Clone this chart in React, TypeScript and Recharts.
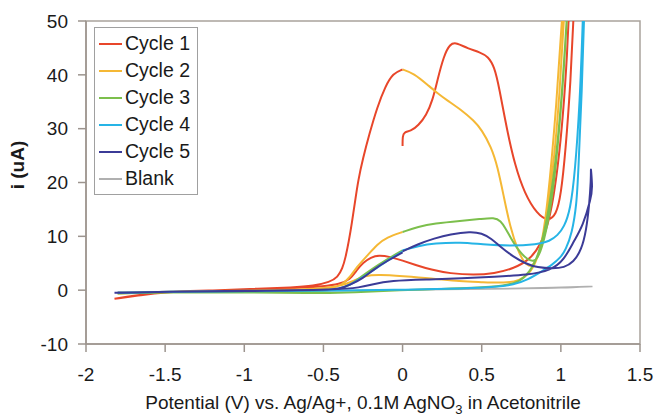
import {
  Legend,
  Line,
  LineChart,
  ReferenceArea,
  XAxis,
  YAxis,
} from "recharts";

type Pt = [number, number];

// each sweep starts at 0 V, runs to +1.2 V, back to -1.8 V and forward to 0 V
// (turning points are repeated so the smoothed curve reaches them)
const cycle1: Pt[] = [
  [0.0, 26.8], [0.0, 28.6], [0.01, 29.4], [0.05, 29.5], [0.1, 30.6], [0.15, 32.5],
  [0.19, 35.3], [0.22, 39.0], [0.26, 43.5], [0.3, 45.8], [0.34, 46.0], [0.41, 44.9],
  [0.49, 44.2], [0.54, 43.4], [0.58, 41.5], [0.61, 37.7], [0.66, 29.7], [0.71, 23.2],
  [0.77, 18.0], [0.85, 14.1], [0.92, 12.8], [0.97, 14.0], [1.0, 17.5], [1.03, 26],
  [1.06, 38], [1.09, 55], [1.2, 130], [1.09, 80], [1.04, 40], [0.98, 22], [0.93, 13],
  [0.87, 8.2], [0.8, 5.6], [0.7, 4.0], [0.58, 3.1], [0.45, 2.8], [0.3, 3.1], [0.18, 3.8],
  [0.08, 4.7], [0.0, 5.5], [-0.08, 6.2], [-0.15, 6.5], [-0.2, 6.1], [-0.25, 5.1],
  [-0.29, 3.7], [-0.33, 2.0], [-0.4, 1.1], [-0.5, 0.7], [-0.65, 0.4], [-1.0, 0.1],
  [-1.3, -0.1], [-1.5, -0.4], [-1.65, -0.9], [-1.82, -1.6], [-1.82, -1.6], [-1.82, -1.6],
  [-1.7, -1.0], [-1.5, -0.3],
  [-1.2, -0.1], [-0.9, 0.3], [-0.7, 0.5], [-0.56, 0.8], [-0.46, 1.5], [-0.41, 2.4],
  [-0.38, 4.0], [-0.36, 6.1], [-0.34, 9.0], [-0.32, 12.5], [-0.3, 16.5], [-0.28, 20.5],
  [-0.25, 24.5], [-0.21, 29.0], [-0.16, 34.0], [-0.11, 37.8], [-0.06, 40.3], [0.0, 41.0],
];

const cycle2: Pt[] = [
  [0.0, 41.0], [0.07, 40.3], [0.16, 38.1], [0.22, 36.6], [0.28, 35.3], [0.37, 33.5],
  [0.45, 31.5], [0.5, 29.8], [0.56, 26.6], [0.6, 23.0], [0.64, 17.3], [0.68, 11.7],
  [0.73, 7.2], [0.77, 5.0], [0.81, 4.2], [0.85, 5.5], [0.89, 10], [0.93, 20], [0.97, 34],
  [1.01, 50], [1.2, 140], [1.04, 60], [0.99, 35], [0.95, 22], [0.9, 11], [0.85, 5.5],
  [0.8, 3.0], [0.74, 1.8], [0.65, 1.3], [0.49, 1.5], [0.37, 1.6], [0.18, 2.2], [0.0, 2.6],
  [-0.15, 2.9], [-0.24, 2.7], [-0.3, 1.8], [-0.4, 0.6], [-0.6, 0.1], [-1.0, -0.1],
  [-1.5, -0.3], [-1.8, -0.6], [-1.8, -0.6], [-1.8, -0.6], [-1.5, -0.3], [-1.0, -0.1],
  [-0.6, 0.0], [-0.45, 0.3],
  [-0.38, 1.0], [-0.33, 2.5], [-0.29, 4.3], [-0.22, 6.5], [-0.16, 8.5], [-0.1, 9.8],
  [0.0, 10.8],
];

const cycle3: Pt[] = [
  [0.0, 10.8], [0.1, 11.8], [0.2, 12.4], [0.37, 12.9], [0.49, 13.2], [0.58, 13.5],
  [0.62, 12.9], [0.65, 11.5], [0.68, 9.9], [0.73, 7.4], [0.79, 5.6], [0.84, 5.2],
  [0.88, 7.5], [0.93, 14], [0.97, 23], [1.01, 37], [1.04, 50], [1.2, 140], [1.06, 60],
  [1.0, 33], [0.96, 22], [0.91, 12.5], [0.86, 6.5], [0.8, 3.2], [0.74, 1.6], [0.65, 0.8],
  [0.45, 0.4], [0.2, 0.2], [0.0, 0.0], [-0.3, -0.4], [-0.6, -0.6], [-1.0, -0.4],
  [-1.5, -0.4], [-1.8, -0.6], [-1.8, -0.6], [-1.8, -0.6], [-1.5, -0.4], [-1.0, -0.3],
  [-0.5, -0.2], [-0.4, 0.1],
  [-0.33, 1.0], [-0.27, 2.3], [-0.2, 3.8], [-0.1, 5.7], [0.0, 7.4],
];

const cycle4: Pt[] = [
  [0.0, 7.4], [0.1, 8.2], [0.2, 8.7], [0.37, 8.9], [0.5, 8.5], [0.68, 8.2], [0.85, 8.5],
  [0.93, 9.1], [0.98, 10.2], [1.02, 11.7], [1.06, 14.9], [1.09, 22], [1.12, 35],
  [1.14, 50], [1.2, 110], [1.16, 60], [1.13, 35], [1.11, 22], [1.1, 16], [1.07, 10.5],
  [1.03, 7.5], [1.0, 6.1], [0.94, 4.6], [0.89, 3.7], [0.79, 1.9], [0.7, 1.0], [0.6, 0.6],
  [0.4, 0.3], [0.0, 0.1], [-0.3, -0.1], [-1.0, -0.2], [-1.5, -0.3], [-1.8, -0.5],
  [-1.8, -0.5], [-1.8, -0.5],
  [-1.5, -0.3], [-1.0, -0.2], [-0.5, -0.1], [-0.4, 0.2], [-0.33, 1.0], [-0.26, 2.2],
  [-0.18, 3.8], [-0.1, 5.4], [0.0, 7.2],
];

const cycle5: Pt[] = [
  [0.0, 7.2], [0.1, 8.6], [0.2, 9.6], [0.3, 10.4], [0.43, 10.9], [0.5, 10.6],
  [0.56, 9.6], [0.62, 8.0], [0.7, 6.2], [0.78, 4.9], [0.85, 4.2], [0.95, 4.0],
  [1.02, 4.2], [1.08, 5.2], [1.13, 7.5], [1.16, 11], [1.18, 16], [1.19, 20.5], [1.19, 22.5],
  [1.19, 22.5], [1.2, 19], [1.19, 17], [1.14, 12], [1.08, 9.0], [1.02, 5.6], [0.94, 3.7],
  [0.79, 2.8], [0.58, 2.5], [0.37, 2.2], [0.18, 2.0], [-0.08, 1.8], [-0.2, 1.0],
  [-0.27, 0.5], [-0.4, 0.1], [-1.0, -0.2], [-1.5, -0.3], [-1.82, -0.5], [-1.82, -0.5],
  [-1.82, -0.5], [-1.5, -0.3], [-1.0, -0.1],
  [-0.5, 0.0], [-0.4, 0.2], [-0.33, 1.0], [-0.25, 2.2], [-0.18, 3.9], [-0.1, 5.4],
  [0.0, 7.0],
];

const blank: Pt[] = [
  [-1.8, -0.3], [-1.0, -0.2], [-0.5, -0.1], [0.0, 0.0], [0.4, 0.2], [0.8, 0.3],
  [1.0, 0.4], [1.2, 0.7], [1.2, 0.7], [1.2, 0.7], [1.0, 0.5], [0.5, 0.2], [0.0, 0.0],
  [-1.0, -0.2], [-1.8, -0.4],
];

const xTicks = [-2, -1.5, -1, -0.5, 0, 0.5, 1, 1.5];
const yTicks = [-10, 0, 10, 20, 30, 40, 50];

const series = [
  { name: "Cycle 1", color: "#e8462a", points: cycle1 },
  { name: "Cycle 2", color: "#f5b835", points: cycle2 },
  { name: "Cycle 3", color: "#7cbf4c", points: cycle3 },
  { name: "Cycle 4", color: "#26b4e6", points: cycle4 },
  { name: "Cycle 5", color: "#3b3b97", points: cycle5 },
  { name: "Blank", color: "#b0b0b0", points: blank },
];

const FONT = "'Liberation Sans', Arial, sans-serif";
const toRows = (pts: Pt[]) => pts.map(([x, y]) => ({ x, y }));

function LegendBox() {
  return (
    <div
      style={{
        border: "1px solid #a0a0a0",
        background: "#fff",
        padding: "2px 7px 2px 4px",
        fontFamily: FONT,
        fontSize: 19.5,
        color: "#1a1a1a",
      }}
    >
      {series.map((s) => (
        <div key={s.name} style={{ display: "flex", alignItems: "center", height: 27 }}>
          <span
            style={{
              display: "inline-block",
              width: 23,
              height: 2,
              background: s.color,
              marginRight: 3,
            }}
          />
          {s.name}
        </div>
      ))}
    </div>
  );
}

function YTitle() {
  return (
    <text
      x={17}
      y={165}
      transform="rotate(-90, 17, 165)"
      textAnchor="middle"
      dominantBaseline="central"
      fontFamily={FONT}
      fontSize={19}
      fontWeight="bold"
      fill="#1a1a1a"
    >
      i (uA)
    </text>
  );
}

function XTitle() {
  return (
    <text x={363} y={409} textAnchor="middle" fontFamily={FONT} fontSize={19} fill="#1a1a1a">
      <tspan>Potential (V) vs. Ag/Ag+, 0.1M AgNO</tspan>
      <tspan fontSize={13} dy={5}>3</tspan>
      <tspan dy={-5}>{" in Acetonitrile"}</tspan>
    </text>
  );
}

export default function App() {
  const tick = { fill: "#1a1a1a", fontSize: 19, fontFamily: FONT };
  return (
    <div style={{ position: "absolute", left: 0, top: 0, width: 656, height: 416, background: "#fff" }}>
      <LineChart width={656} height={416} margin={{ top: 21, right: 16, bottom: 32, left: 0 }}>
        <ReferenceArea x1={-2} x2={1.5} y1={-10} y2={50} fill="none" stroke="#a9a29c" strokeWidth={1.5} />
        <XAxis
          type="number"
          dataKey="x"
          domain={[-2, 1.5]}
          ticks={xTicks}
          allowDataOverflow
          height={40}
          tickSize={8}
          tickMargin={16}
          tick={tick}
          stroke="#9c948e"
          strokeWidth={1.5}
          label={<XTitle />}
        />
        <YAxis
          type="number"
          domain={[-10, 50]}
          ticks={yTicks}
          allowDataOverflow
          width={86}
          tickSize={8}
          tickMargin={10}
          tick={tick}
          stroke="#9c948e"
          strokeWidth={1.5}
          label={<YTitle />}
        />
        <Legend
          layout="vertical"
          align="center"
          verticalAlign="middle"
          wrapperStyle={{ left: 94, top: 27, width: "auto" }}
          content={() => <LegendBox />}
        />
        {[series[5], ...series.slice(0, 5)].map((s) => (
          <Line
            key={s.name}
            name={s.name}
            data={toRows(s.points)}
            dataKey="y"
            type="basis"
            stroke={s.color}
            strokeWidth={s.name === "Blank" ? 1.5 : 2}
            dot={false}
            activeDot={false}
            isAnimationActive={false}
          />
        ))}
      </LineChart>
    </div>
  );
}
